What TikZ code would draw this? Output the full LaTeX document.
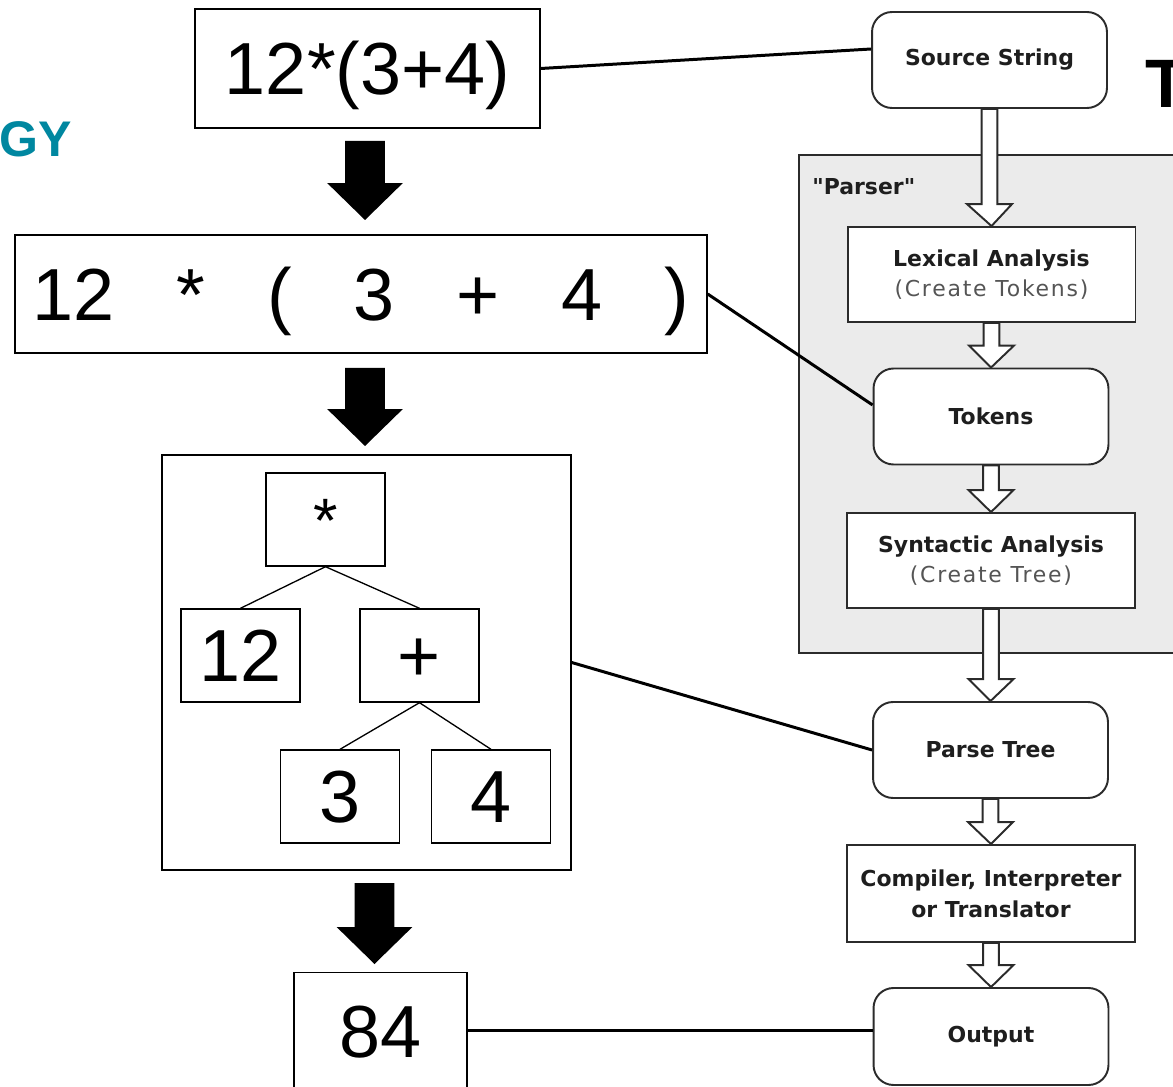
\documentclass[tikz,border=0pt]{standalone}
\usepackage{fontspec}
\setmainfont{Liberation Sans}
\newfontfamily\flowfont{DejaVu Sans}
\newfontfamily\flowsub[LetterSpace=8]{DejaVu Sans}
\usetikzlibrary{calc}

\definecolor{brandteal}{HTML}{0087A0}
\definecolor{stroke}{HTML}{2B2B2B}
\definecolor{flowtext}{HTML}{1E1E1E}
\definecolor{subgray}{HTML}{555555}
\definecolor{parserfill}{HTML}{EBEBEB}

% solid block arrow between two coordinates (vertical)
\newcommand\blockarrow[2]{%
  \fill let \p1=#1, \p2=#2 in
    (\x1-11.3pt,\y1) -- (\x1-11.3pt,\y2+21pt) -- (\x1-21.5pt,\y2+21pt) --
    (\x1,\y2) -- (\x1+21.5pt,\y2+21pt) -- (\x1+11.3pt,\y2+21pt) --
    (\x1+11.3pt,\y1) -- cycle;}
% outlined block arrow between two anchors (vertical)
\newcommand\hollowarrow[2]{%
  \draw[hollow] let \p1=#1, \p2=#2 in
    (\x1-4.5pt,\y1) -- (\x1-4.5pt,\y2+12.5pt) -- (\x1-12.8pt,\y2+12.5pt) --
    (\x2,\y2) -- (\x1+12.8pt,\y2+12.5pt) -- (\x1+4.5pt,\y2+12.5pt) --
    (\x1+4.5pt,\y1) -- cycle;}

\begin{document}
\begin{tikzpicture}[x=0.02cm,y=-0.02cm,
  bigtext/.style={font=\fontsize{42}{50}\selectfont},
  exprbox/.style={draw, line width=0.85pt, inner sep=0pt, bigtext,
    text height=30pt, text depth=0pt},
  treebox/.style={draw, line width=0.8pt, minimum width=2.38cm,
    minimum height=1.86cm, inner sep=0pt, bigtext,
    text height=30pt, text depth=0pt},
  edge/.style={line width=0.75pt},
  link/.style={line width=1.7pt},
  stage/.style={draw=stroke, line width=1.1pt, fill=white, text=flowtext,
    font={\flowfont\bfseries\fontsize{12.5}{17.5}\selectfont},
    align=center, inner sep=0pt},
  roundstage/.style={stage, rounded corners=0.4cm, minimum width=4.7cm,
    minimum height=1.92cm},
  squarestage/.style={stage, minimum width=5.76cm, minimum height=1.9cm},
  hollow/.style={draw=stroke, line width=1.1pt, fill=white, line join=miter}]

\clip (0,0) rectangle (1173,1087);
\fill[white] (0,0) rectangle (1173,1087);

% heading fragments
\node[anchor=base west, inner sep=0pt, text=brandteal,
  font=\fontsize{28.5}{30}\selectfont\bfseries] (heading) at (-1,157) {GY};
\node[anchor=base west, inner sep=0pt,
  font=\fontsize{39}{40}\selectfont\bfseries] (corner) at (1145,108) {T};

% ---------- worked example ----------
\node[exprbox, minimum width=6.9cm, minimum height=2.38cm] (src expr)
  at (367.5,68.5) {12*(3+4)};
\node[exprbox, minimum width=13.84cm, minimum height=2.36cm] (tok expr)
  at (361,294)
  {12\hspace{0.84em}*\hspace{0.84em}(\hspace{0.84em}3\hspace{0.84em}+\hspace{0.84em}4\hspace{0.84em})};
\node[draw, line width=0.85pt, minimum width=8.18cm, minimum height=8.3cm,
  inner sep=0pt] (tree) at (366.5,662.5) {};

\node[treebox] (tmul) at (325.5,519.5) {\raisebox{2pt}{\scalebox{0.85}{*}}};
\node[treebox] (t12) at (240.5,655.5) {12};
\node[treebox] (tadd) at (419.5,655.5) {+};
\node[treebox] (t3) at (340,796.5) {3};
\node[treebox] (t4) at (491,796.5) {4};
\draw[edge] (tmul.south) -- (t12.north);
\draw[edge] (tmul.south) -- (tadd.north);
\draw[edge] (tadd.south) -- (t3.north);
\draw[edge] (tadd.south) -- (t4.north);

\node[draw, line width=0.85pt, minimum width=3.46cm, inner xsep=0pt,
  inner ysep=0.66cm, bigtext, text height=29.5pt, text depth=25pt,
  anchor=north] (result) at (380.5,972) {84};

\coordinate (b1s) at (365,141);  \coordinate (b1e) at (365,220);
\coordinate (b2s) at (365,368);  \coordinate (b2e) at (365,446);
\coordinate (b3s) at (374.5,883); \coordinate (b3e) at (374.5,964);
\blockarrow{(b1s)}{(b1e)}
\blockarrow{(b2s)}{(b2e)}
\blockarrow{(b3s)}{(b3e)}

% ---------- pipeline ----------
\node[draw=stroke, line width=1.1pt, fill=parserfill, minimum width=8.02cm,
  minimum height=9.96cm, inner sep=0pt] (parser) at (999.5,404) {};
\node[anchor=west, inner sep=0pt, text=flowtext,
  font={\flowfont\bfseries\fontsize{12.5}{15}\selectfont}] (parser label)
  at (812,187) {"Parser"};

\node[roundstage] (source) at (989.5,60) {Source String};
\node[squarestage] (lexical) at (991.5,274.5)
  {Lexical Analysis\\{\flowsub\mdseries\color{subgray}(Create Tokens)}};
\node[roundstage] (tokens) at (991,416.5) {Tokens};
\node[squarestage] (syntactic) at (991,560.5)
  {Syntactic Analysis\\{\flowsub\mdseries\color{subgray}(Create Tree)}};
\node[roundstage] (parsetree) at (990.5,750) {Parse Tree};
\node[squarestage, minimum height=1.94cm] (backend) at (991,893.5)
  {Compiler, Interpreter\\or Translator};
\node[roundstage, minimum height=1.94cm] (output) at (991,1036.5) {Output};

\hollowarrow{(source.south)}{(lexical.north)}
\hollowarrow{(lexical.south)}{(tokens.north)}
\hollowarrow{(tokens.south)}{(syntactic.north)}
\hollowarrow{(syntactic.south)}{(parsetree.north)}
\hollowarrow{(parsetree.south)}{(backend.north)}
\hollowarrow{(backend.south)}{(output.north)}

% ---------- correspondences ----------
\draw[link] (src expr.east) -- ([yshift=0.22cm]source.west);
\draw[link] (tok expr.east) -- ([yshift=0.23cm]tokens.west);
\draw[link] (tree.east) -- (parsetree.west);
\draw[link] ([yshift=0.12cm]output.west) -- ([yshift=0.12cm]output.west -| result.east);

\end{tikzpicture}
\end{document}
